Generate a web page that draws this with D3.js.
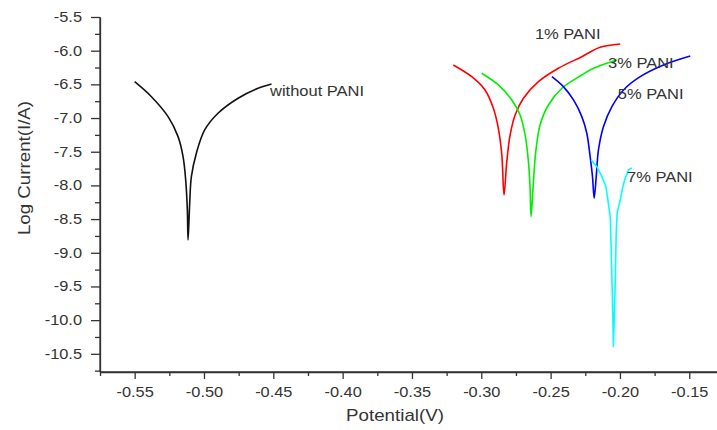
<!DOCTYPE html>
<html>
<head>
<meta charset="utf-8">
<script src="https://cdn.jsdelivr.net/npm/d3@7/dist/d3.min.js"></script>
<style>
  body { margin: 0; background: #fff; }
  svg text { font-family: Arial, "Liberation Sans", sans-serif; fill: #333; }
  .axis path, .axis line { stroke: #333; stroke-width: 1.3; }
  .courbe { fill: none; stroke-width: 1.6; stroke-linejoin: round; }
</style>
</head>
<body>
<svg id="tafel" width="717" height="430"></svg>
<script>
// courbes de Tafel : [potentiel (V), log courant]
var sansPani = [[-0.550,-6.46],[-0.5379,-6.683],[-0.5259,-6.979],[-0.5187,-7.276],[-0.5151,-7.572],[-0.5132,-7.918],[-0.5120,-8.363],[-0.5115,-8.809],
    [-0.5103,-8.26],[-0.5091,-7.869],[-0.5055,-7.522],[-0.4995,-7.177],[-0.4899,-6.929],[-0.4754,-6.706],[-0.4610,-6.558],[-0.4513,-6.494]];
var pani1 = [[-0.3202,-6.212],[-0.3069,-6.386],[-0.2973,-6.583],[-0.2913,-6.855],[-0.2877,-7.152],[-0.2852,-7.547],[-0.2836,-8.141],
    [-0.2816,-7.647],[-0.2792,-7.251],[-0.2756,-6.954],[-0.2696,-6.706],[-0.2588,-6.46],[-0.2444,-6.261],[-0.2275,-6.089],[-0.2143,-5.95],[-0.1998,-5.901]];
var pani3 = [[-0.2997,-6.335],[-0.2877,-6.509],[-0.2780,-6.731],[-0.2720,-6.954],[-0.2684,-7.251],[-0.2660,-7.647],[-0.2648,-8.042],[-0.2641,-8.463],
    [-0.2624,-7.944],[-0.2607,-7.499],[-0.2576,-7.102],[-0.2516,-6.806],[-0.2419,-6.558],[-0.2275,-6.361],[-0.2191,-6.261],[-0.2022,-6.138]];
var pani5 = [[-0.2491,-6.386],[-0.2408,-6.534],[-0.2335,-6.731],[-0.2275,-6.979],[-0.2239,-7.226],[-0.2215,-7.573],[-0.2198,-7.869],[-0.2186,-8.19],
    [-0.2171,-7.869],[-0.2155,-7.473],[-0.2119,-7.128],[-0.2058,-6.831],[-0.1974,-6.583],[-0.1854,-6.386],[-0.1686,-6.212],[-0.1493,-6.079]];
var pani7 = [[-0.2208,-7.622],[-0.2167,-7.721],[-0.2130,-7.869],[-0.2101,-8.018],[-0.2087,-8.215],[-0.2070,-8.463],[-0.2063,-8.957],[-0.2054,-9.699],[-0.2047,-10.392],
    [-0.2034,-9.447],[-0.2027,-8.705],[-0.2020,-8.408],[-0.1998,-8.215],[-0.1979,-8.018],[-0.1962,-7.893],[-0.1938,-7.77],[-0.1914,-7.74]];

var nomsSeries = ["without PANI", "1% PANI", "3% PANI", "5% PANI", "7% PANI"];
var ticksX = [-0.55, -0.50, -0.45, -0.40, -0.35, -0.30, -0.25, -0.20, -0.15];
var ticksY = [-5.5, -6.0, -6.5, -7.0, -7.5, -8.0, -8.5, -9.0, -9.5, -10.0, -10.5];

var svg = d3.select("#tafel");
var etire = "scale(1.17,1)"; // le texte d'origine est un peu étiré en largeur

var x = d3.scaleLinear().domain([-0.575, -0.13]).range([100, 717]);
var y = d3.scaleLinear().domain([-10.77, -5.5]).range([372, 17]);

// graduations secondaires
var minX = d3.range(-0.575, -0.13, 0.05).map(function(d) { return +d.toFixed(3); });
var minY = d3.range(-10.75, -5.5, 0.5).map(function(d) { return +d.toFixed(2); });

svg.append("g").attr("class", "axis")
    .attr("transform", "translate(0,372)")
    .call(d3.axisBottom(x).tickValues(minX).tickSize(4).tickFormat("").tickSizeOuter(0));
svg.append("g").attr("class", "axis")
    .attr("transform", "translate(100,0)")
    .call(d3.axisLeft(y).tickValues(minY).tickSize(5).tickFormat("").tickSizeOuter(0));

var axeX = svg.append("g").attr("class", "axis")
    .attr("transform", "translate(0,372)")
    .call(d3.axisBottom(x).tickValues(ticksX).tickSize(7).tickPadding(8).tickSizeOuter(0)
        .tickFormat(function(d) { return d.toFixed(2); }));
axeX.selectAll("text").attr("transform", etire).style("font-size", "14px");

var axeY = svg.append("g").attr("class", "axis")
    .attr("transform", "translate(100,0)")
    .call(d3.axisLeft(y).tickValues(ticksY).tickSize(9).tickSizeOuter(0)
        .tickFormat(function(d) { return d.toFixed(1); }));
axeY.selectAll("text").attr("x", -15.4).attr("transform", etire).style("font-size", "14px");
axeY.select(".domain").attr("d", "M0,372V17");
axeX.select(".domain").attr("d", "M100,0H717");

// titres des axes
svg.append("text")
    .attr("transform", "translate(395,421) scale(1.17,1)")
    .attr("text-anchor", "middle")
    .style("font-size", "16px")
    .text("Potential(V)");
svg.append("text")
    .attr("transform", "translate(30,168) rotate(-90) scale(1.17,1)")
    .attr("text-anchor", "middle")
    .style("font-size", "16px")
    .text("Log Current(I/A)");

var series = [
    { nom: nomsSeries[0], pts: sansPani, couleur: "#111111", lisse: true,  note: [-0.4524, -6.673] },
    { nom: nomsSeries[1], pts: pani1,    couleur: "#ff0000", lisse: true,  note: [-0.2613, -5.827] },
    { nom: nomsSeries[2], pts: pani3,    couleur: "#00ee00", lisse: true,  note: [-0.2086, -6.257] },
    { nom: nomsSeries[3], pts: pani5,    couleur: "#0000ff", lisse: true,  note: [-0.2015, -6.717] },
    { nom: nomsSeries[4], pts: pani7,    couleur: "#00ffff", lisse: false, note: [-0.1949, -7.950] }
];

var ligne = function(lisse) {
    return d3.line()
        .x(function(d) { return x(d[0]); })
        .y(function(d) { return y(d[1]); })
        .curve(lisse ? d3.curveCatmullRom.alpha(0.5) : d3.curveLinear);
};

svg.selectAll("path.courbe")
    .data(series)
    .enter().append("path")
    .attr("class", "courbe")
    .attr("stroke", function(d) { return d.couleur; })
    .attr("d", function(d) { return ligne(d.lisse)(d.pts); });

svg.selectAll("text.note")
    .data(series)
    .enter().append("text")
    .attr("class", "note")
    .attr("transform", function(d) { return "translate(" + x(d.note[0]) + "," + y(d.note[1]) + ") scale(1.1,1)"; })
    .style("font-size", "15px")
    .text(function(d) { return d.nom; });
</script>
</body>
</html>
